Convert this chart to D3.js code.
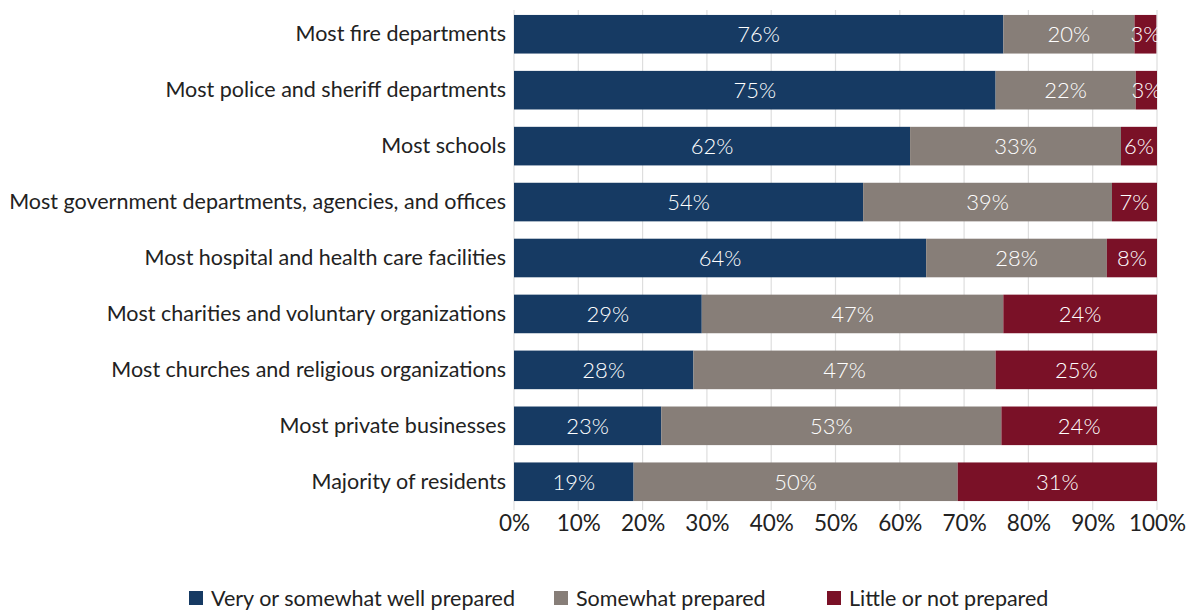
<!DOCTYPE html>
<html>
<head>
<meta charset="utf-8">
<script src="https://cdn.jsdelivr.net/npm/d3@7"></script>
<style>
  html, body { margin: 0; padding: 0; background: #fff; }
  svg { display: block; font-family: "Lato", "Open Sans", sans-serif; }
</style>
</head>
<body>
<svg id="chart" width="1192" height="613"></svg>
<script>
// Survey: how prepared are local institutions and residents
const categories = [
  "Most fire departments",
  "Most police and sheriff departments",
  "Most schools",
  "Most government departments, agencies, and offices",
  "Most hospital and health care facilities",
  "Most charities and voluntary organizations",
  "Most churches and religious organizations",
  "Most private businesses",
  "Majority of residents"
];
const seriesNames = ["Very or somewhat well prepared", "Somewhat prepared", "Little or not prepared"];
const wellPrepared   = [76.1, 74.9, 61.6, 54.3, 64.1, 29.2, 27.9, 22.9, 18.6];
const somewhatPrep   = [20.4, 21.8, 32.8, 38.7, 28.1, 46.9, 47.0, 52.9, 50.4];
const littlePrep     = [3.4, 3.3, 5.6, 7.0, 7.8, 23.9, 25.1, 24.2, 31.0];
const xTicks = [0, 10, 20, 30, 40, 50, 60, 70, 80, 90, 100];
const colors = ["#163a63", "#877e78", "#7a1127"];

const rows = categories.map((c, i) => ({
  category: c,
  [seriesNames[0]]: wellPrepared[i],
  [seriesNames[1]]: somewhatPrep[i],
  [seriesNames[2]]: littlePrep[i]
}));

const svg = d3.select("#chart");
const margin = { top: 6, left: 514, right: 35 };
const plotBottom = 510;

const x = d3.scaleLinear().domain([0, 100]).range([margin.left, 1192 - margin.right]);
const y = d3.scaleBand().domain(categories).range([margin.top, plotBottom]).paddingInner(0.31).paddingOuter(0.16);
const color = d3.scaleOrdinal().domain(seriesNames).range(colors);

// vertical gridlines
svg.append("g")
  .selectAll("line")
  .data(xTicks)
  .join("line")
  .attr("x1", d => x(d)).attr("x2", d => x(d))
  .attr("y1", 10).attr("y2", plotBottom)
  .attr("stroke", "#dedede")
  .attr("stroke-width", 1.2);

// x axis labels
const xAxis = d3.axisBottom(x).tickValues(xTicks).tickFormat(d => d + "%").tickSize(0).tickPadding(0);
const gx = svg.append("g").attr("transform", `translate(0, ${plotBottom + 5})`).call(xAxis);
gx.select(".domain").remove();
gx.selectAll("text")
  .attr("dy", "0.71em")
  .attr("font-size", 22.5)
  .attr("fill", "#222")
  .style("font-family", "Lato, sans-serif");

// category labels
const yAxis = d3.axisLeft(y).tickSize(0).tickPadding(8);
const gy = svg.append("g").attr("transform", `translate(${margin.left}, 0)`).call(yAxis);
gy.select(".domain").remove();
gy.selectAll("text")
  .attr("font-size", 21.5)
  .attr("fill", "#222")
  .style("font-family", "Lato, sans-serif");

// stacked bars
const stack = d3.stack().keys(seriesNames);
const layers = stack(rows);

const layerG = svg.append("g")
  .selectAll("g")
  .data(layers)
  .join("g")
  .attr("fill", d => color(d.key));

layerG.selectAll("rect")
  .data(d => d)
  .join("rect")
  .attr("x", d => x(d[0]))
  .attr("y", d => y(d.data.category))
  .attr("width", d => x(d[1]) - x(d[0]))
  .attr("height", y.bandwidth());

// value labels centred in each segment
layerG.selectAll("text")
  .data(d => d)
  .join("text")
  .attr("x", d => (x(d[0]) + x(d[1])) / 2)
  .attr("y", d => y(d.data.category) + y.bandwidth() / 2)
  .attr("dy", "0.36em")
  .attr("text-anchor", "middle")
  .attr("fill", "#fff")
  .attr("font-size", 22)
  .attr("font-weight", 300)
  .text(d => d3.format(".0f")(d[1] - d[0]) + "%");

// legend
const legendItems = [
  { name: seriesNames[0], x: 189 },
  { name: seriesNames[1], x: 554 },
  { name: seriesNames[2], x: 827 }
];
const lg = svg.append("g").selectAll("g").data(legendItems).join("g")
  .attr("transform", d => `translate(${d.x}, 598)`);
lg.append("rect")
  .attr("x", 0).attr("y", -7).attr("width", 14).attr("height", 14)
  .attr("fill", d => color(d.name));
lg.append("text")
  .attr("x", 22).attr("dy", "0.36em")
  .attr("font-size", 21.5)
  .attr("fill", "#222")
  .text(d => d.name);
</script>
</body>
</html>
